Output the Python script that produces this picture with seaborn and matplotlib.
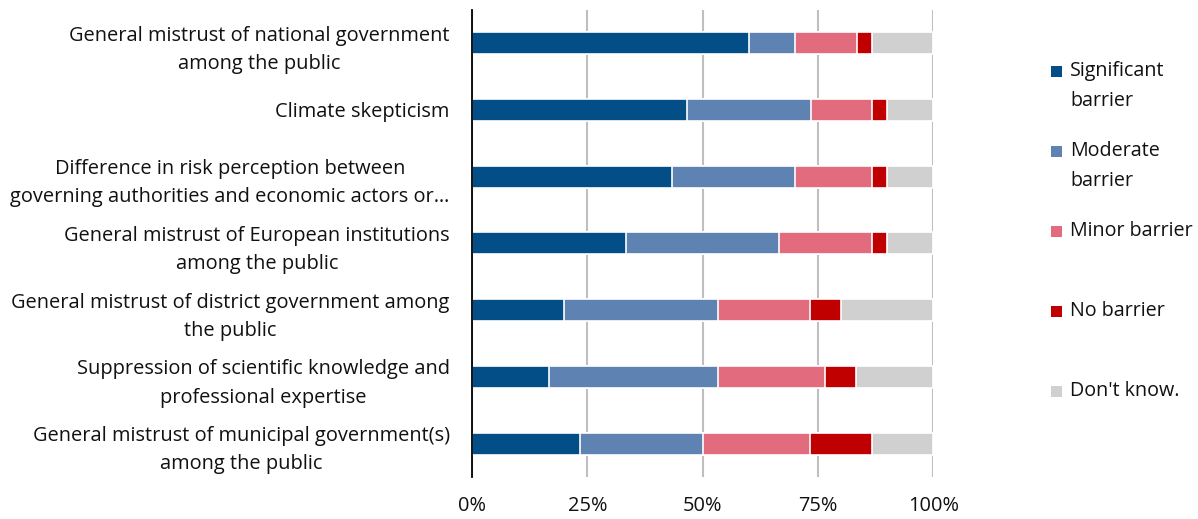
import pandas as pd
import matplotlib.pyplot as plt
import seaborn as sns
from matplotlib.patches import Rectangle
from matplotlib.ticker import PercentFormatter

# Barrier categories (top to bottom as shown)
categories = [
    "General mistrust of national government\namong the public",
    "Climate skepticism",
    "Difference in risk perception between\ngoverning authorities and economic actors or\u2026",
    "General mistrust of European institutions\namong the public",
    "General mistrust of district government among\nthe public",
    "Suppression of scientific knowledge and\nprofessional expertise",
    "General mistrust of municipal government(s)\namong the public",
]

# Shares of responses (%)
significant = [60.0, 46.7, 43.3, 33.3, 20.0, 16.7, 23.3]
moderate = [10.0, 26.7, 26.7, 33.3, 33.3, 36.7, 26.7]
minor = [13.3, 13.3, 16.7, 20.0, 20.0, 23.3, 23.3]
no_barrier = [3.3, 3.3, 3.3, 3.3, 6.7, 6.7, 13.3]
dont_know = [13.3, 10.0, 10.0, 10.0, 20.0, 16.7, 13.3]

series_names = ["Significant\nbarrier", "Moderate\nbarrier", "Minor barrier", "No barrier", "Don't know."]
colors = ["#044E88", "#5E83B2", "#E26B7D", "#C00000", "#D0D0D0"]

df = pd.DataFrame({
    "category": categories,
    "s0": significant,
    "s1": moderate,
    "s2": minor,
    "s3": no_barrier,
    "s4": dont_know,
})
cols = ["s0", "s1", "s2", "s3", "s4"]
cum = df[cols].cumsum(axis=1)
cum = cum.div(cum["s4"], axis=0) * 100
cum["category"] = df["category"]

plt.rcParams["font.family"] = ["Open Sans", "DejaVu Sans"]
fig = plt.figure(figsize=(11.98, 5.19), dpi=100)
ax = fig.add_axes([0.394, 0.081, 0.385, 0.9])

# stacked bars: draw cumulative totals from the largest down
for col, color in reversed(list(zip(cols, colors))):
    sns.barplot(data=cum, x=col, y="category", orient="h", color=color,
                width=0.33, edgecolor="white", linewidth=1.2, ax=ax,
                saturation=1, zorder=3)

ax.set_xlim(0, 100)
ax.set_ylim(6.5, -0.5)
ax.set_xticks([0, 25, 50, 75, 100])
ax.xaxis.set_major_formatter(PercentFormatter(decimals=0))
ax.grid(axis="x", color="#BFBFBF", linewidth=1.5, zorder=0)
ax.set_axisbelow(True)
for s in ["top", "right", "bottom"]:
    ax.spines[s].set_visible(False)
ax.spines["left"].set_color("black")
ax.spines["left"].set_linewidth(1.3)
ax.spines["left"].set_zorder(5)
ax.tick_params(axis="both", length=0, labelsize=14.4, colors="#111111")
ax.tick_params(axis="y", pad=16)
ax.tick_params(axis="x", pad=14)
for lab in ax.get_yticklabels():
    lab.set_multialignment("center")
    lab.set_linespacing(1.55)
ax.set_xlabel("")
ax.set_ylabel("")

# legend: markers aligned with the first text line, evenly spaced
legend_y = [71, 151, 231, 311, 391]
for name, color, ypx in zip(series_names, colors, legend_y):
    yf = 1 - ypx / 519
    fig.patches.append(Rectangle((1051 / 1198, yf - 5.5 / 519), 11 / 1198, 11 / 519,
                                 transform=fig.transFigure, facecolor=color,
                                 edgecolor="none"))
    fig.text(1070 / 1198, yf + 10 / 519, name, ha="left", va="top", fontsize=14.2,
             color="#111111", linespacing=1.65)

fig.savefig("out.png", dpi=100)
plt.close()
